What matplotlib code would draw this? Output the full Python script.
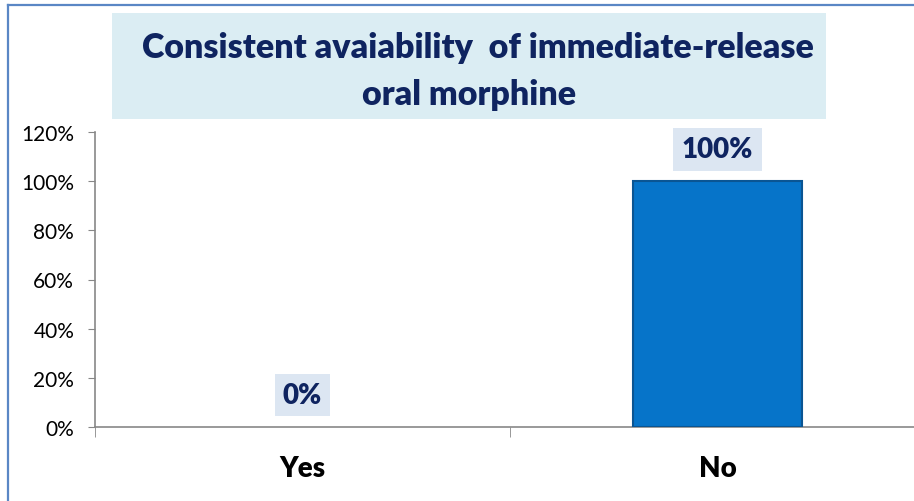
import matplotlib
matplotlib.use("Agg")
import matplotlib.pyplot as plt
from matplotlib.patches import Rectangle
from matplotlib.lines import Line2D

categories = ["Yes", "No"]
values = [0.0, 1.0]
value_labels = ["0%", "100%"]
yticks = [0, 0.2, 0.4, 0.6, 0.8, 1.0, 1.2]
ytick_labels = ["0%", "20%", "40%", "60%", "80%", "100%", "120%"]
title_lines = ["Consistent avaiability  of immediate-release", "oral morphine"]

W, H = 914, 502
NAVY = "#0f2460"
BAR = "#0674c9"
AXIS = "#878787"
plt.rcParams["font.family"] = ["Lato", "DejaVu Sans"]

fig = plt.figure(figsize=(W / 100, H / 100), dpi=100)

# outer frame (blue line on left and top)
fig.add_artist(Line2D([8 / W, 8 / W], [0, 1 - 6 / H], color="#5a87c5", lw=1.6))
fig.add_artist(Line2D([8 / W, 1], [1 - 6 / H, 1 - 6 / H], color="#5a87c5", lw=1.6))

# title box
fig.add_artist(Rectangle((112 / W, 1 - 120 / H), (826 - 112) / W, (120 - 14) / H,
                         transform=fig.transFigure, facecolor="#dbedf3", edgecolor="none"))
fig.text(478 / W, 1 - 58 / H, title_lines[0], ha="center", va="baseline",
         fontsize=24.5, fontweight="heavy", color=NAVY)
fig.text(469 / W, 1 - 105 / H, title_lines[1], ha="center", va="baseline",
         fontsize=24.5, fontweight="heavy", color=NAVY)

ax = fig.add_axes([95 / W, 74 / H, (925 - 95) / W, (428 - 133) / H])
x = list(range(len(categories)))
edges = ["#0a5593" if v > 0 else "none" for v in values]
ax.bar(x, values, width=0.405, color=BAR, edgecolor=edges, linewidth=1.5, zorder=3)
ax.set_xlim(-0.5, len(categories) - 0.5)
ax.set_ylim(0, 1.2)
ax.set_yticks(yticks)
ax.set_yticklabels(ytick_labels, fontsize=15)
ax.set_xticks(x)
ax.set_xticklabels(categories, fontsize=20, fontweight="heavy")
ax.set_xticks([-0.5, 0.5, 1.5], minor=True)
ax.tick_params(axis="x", which="major", length=0, pad=20)
ax.tick_params(axis="x", which="minor", length=7, color=AXIS, direction="out")
ax.tick_params(axis="y", length=5, color=AXIS, pad=10)
for side in ["top", "right"]:
    ax.spines[side].set_visible(False)
for side in ["left", "bottom"]:
    ax.spines[side].set_color(AXIS)
    ax.spines[side].set_linewidth(1.2)

for xi, v, lab in zip(x, values, value_labels):
    ax.annotate(lab, (xi, v), xytext=(0, 23), textcoords="offset points",
                ha="center", va="center", fontsize=20, fontweight="heavy", color=NAVY,
                bbox=dict(boxstyle="square,pad=0.3", facecolor="#dce6f2", edgecolor="none"))

fig.savefig("out.png", dpi=100)
